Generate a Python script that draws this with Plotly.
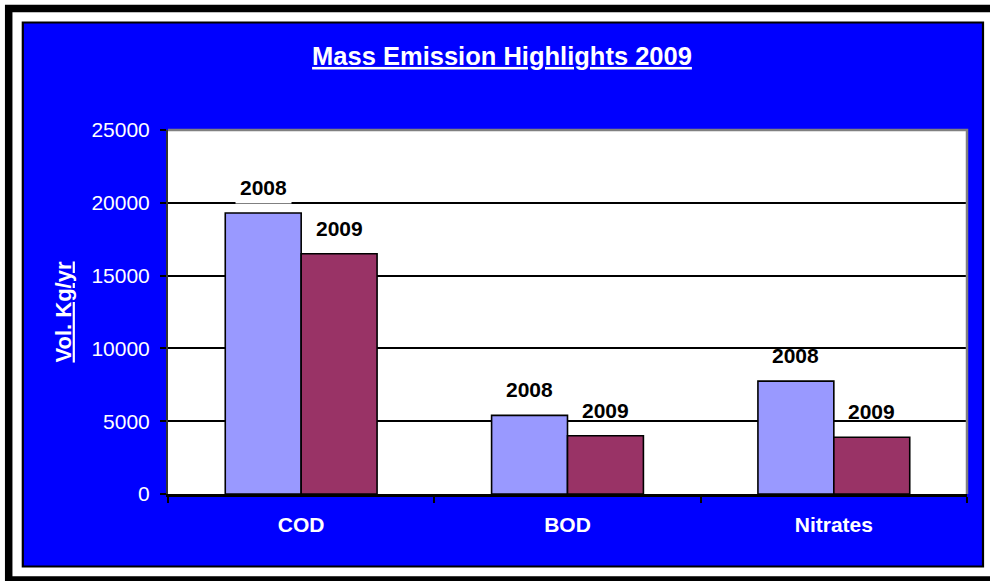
import plotly.graph_objects as go

# --- chart data -------------------------------------------------------------
categories = ["COD", "BOD", "Nitrates"]
series_names = ["2008", "2009"]
emissions_2008 = [19300, 5400, 7750]
emissions_2009 = [16500, 4000, 3900]
y_tick_values = [0, 5000, 10000, 15000, 20000, 25000]
y_tick_labels = ["0", "5000", "10000", "15000", "20000", "25000"]

title_text = "Mass Emission Highlights 2009"
y_title_text = "Vol. Kg/yr"

# --- page geometry (pixels) -------------------------------------------------
W, H = 990, 581
L, R, T, B = 168, 23, 130, 87
PW, PH = W - L - R, H - T - B
BARGAP = 0.43

FONT = "Arial, Liberation Sans, sans-serif"
BLUE = "#0000FF"
COLORS = ["#9999FF", "#993366"]


def px_x(x):
    return (x - L) / PW


def px_y(y):
    return (H - B - y) / PH


fig = go.Figure()
for name, vals, col in zip(series_names, [emissions_2008, emissions_2009], COLORS):
    fig.add_trace(go.Bar(
        x=categories, y=vals, name=name,
        marker=dict(color=col, line=dict(color="black", width=1.6)),
        hoverinfo="x+y+name",
    ))

# series-name labels above each bar
bar_w = (1 - BARGAP) / 2
annotations = []
for j, (name, vals) in enumerate(zip(series_names, [emissions_2008, emissions_2009])):
    for i, v in enumerate(vals):
        boxed = (i == 0 and j == 0)
        annotations.append(dict(
            x=i + (j - 0.5) * bar_w, y=v, xref="x", yref="y",
            text=name, showarrow=False, yanchor="bottom", yshift=9,
            font=dict(family=FONT, size=21, color="black", weight="bold"),
            bgcolor="white" if boxed else "rgba(0,0,0,0)", borderpad=4,
        ))

shapes = [
    # outer frame
    dict(type="rect", xref="paper", yref="paper", layer="below",
         x0=px_x(8.7), x1=px_x(996), y0=px_y(8.5), y1=px_y(580),
         line=dict(color="black", width=7.5), fillcolor="white"),
    # blue chart panel
    dict(type="rect", xref="paper", yref="paper", layer="below",
         x0=px_x(22.8), x1=px_x(983), y0=px_y(22.5), y1=px_y(566.5),
         line=dict(color="black", width=2.2), fillcolor=BLUE),
    # plotting area
    dict(type="rect", xref="paper", yref="paper", layer="below",
         x0=0, x1=1, y0=0, y1=1, line=dict(width=0), fillcolor="white"),
    # grey border on top and right of the plotting area
    dict(type="path", xref="paper", yref="paper", layer="above",
         path="M 0 1 L 1 1 L 1 0", line=dict(color="#808080", width=2.5)),
]

fig.update_layout(
    width=W, height=H,
    margin=dict(l=L, r=R, t=T, b=B, autoexpand=False),
    paper_bgcolor="white",
    plot_bgcolor="rgba(0,0,0,0)",
    barmode="group", bargap=BARGAP, bargroupgap=0,
    showlegend=False,
    title=dict(
        text=title_text, x=502 / W, xref="container", xanchor="center",
        y=1 - 56 / H, yref="container", yanchor="middle",
        font=dict(family=FONT, size=25.5, color="white", weight="bold",
                  lineposition="under"),
    ),
    xaxis=dict(
        showgrid=False, showline=True, linecolor="black", linewidth=2.5,
        ticks="outside", tickson="boundaries", ticklen=6, tickwidth=2,
        tickcolor="black", ticklabelstandoff=10,
        tickfont=dict(family=FONT, size=21, color="white", weight="bold"),
        fixedrange=True,
    ),
    yaxis=dict(
        range=[0, 25000], tickvals=y_tick_values, ticktext=y_tick_labels,
        showgrid=True, gridcolor="black", gridwidth=2,
        zeroline=False, showline=True, linecolor="#333333", linewidth=2,
        ticks="outside", ticklen=6, tickwidth=2, tickcolor="black",
        ticklabelstandoff=6,
        tickfont=dict(family=FONT, size=21, color="white"),
        title=dict(text=y_title_text, standoff=14,
                   font=dict(family=FONT, size=22, color="white",
                             weight="bold", lineposition="under")),
        fixedrange=True,
    ),
    shapes=shapes,
    annotations=annotations,
)

fig.write_html("out.html")
